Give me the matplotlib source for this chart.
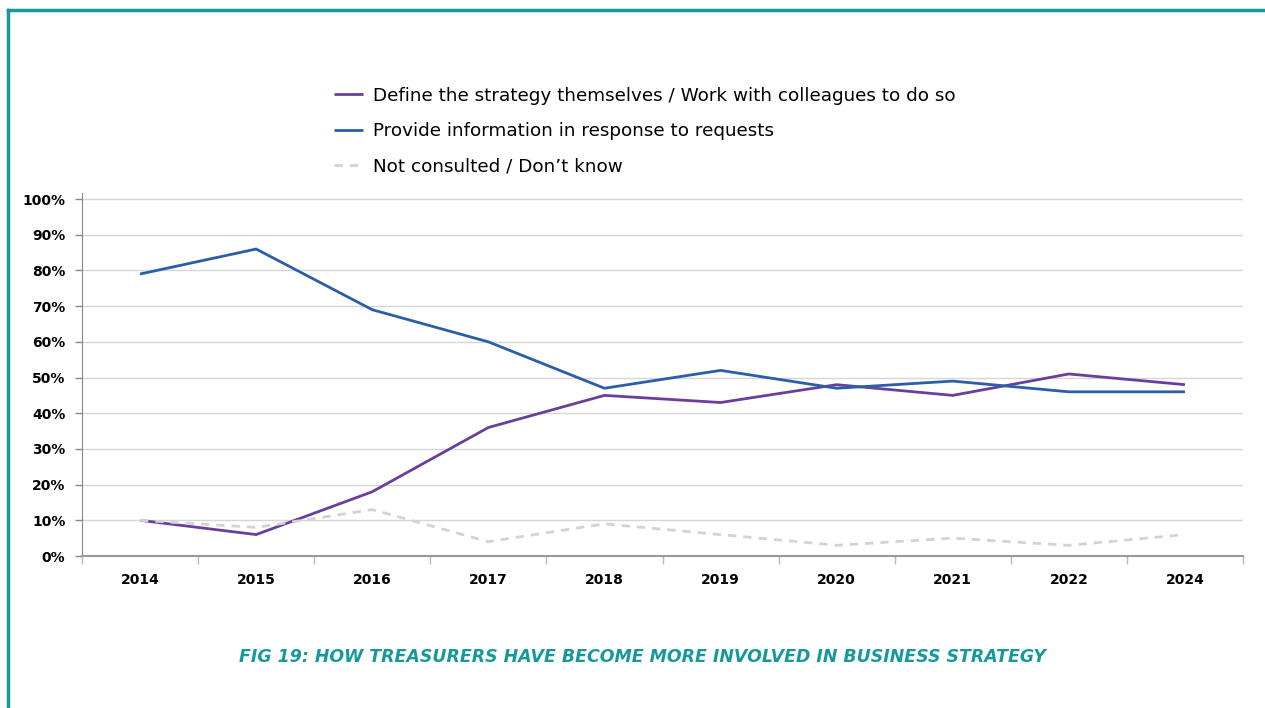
import matplotlib
matplotlib.use("Agg")
import matplotlib.pyplot as plt
from matplotlib.lines import Line2D

years = ["2014", "2015", "2016", "2017", "2018", "2019", "2020", "2021", "2022", "2024"]
define_strategy = [10, 6, 18, 36, 45, 43, 48, 45, 51, 48]
provide_info = [79, 86, 69, 60, 47, 52, 47, 49, 46, 46]
not_consulted = [10, 8, 13, 4, 9, 6, 3, 5, 3, 6]

labels = ["Define the strategy themselves / Work with colleagues to do so",
          "Provide information in response to requests",
          "Not consulted / Don\u2019t know"]
caption = "FIG 19: HOW TREASURERS HAVE BECOME MORE INVOLVED IN BUSINESS STRATEGY"

purple = "#6a3f9c"
blue = "#2b5ea8"
grey = "#d3d3d3"
teal = "#17999b"

plt.rcParams['font.family'] = ['DejaVu Sans']

fig = plt.figure(figsize=(12.65, 7.08), dpi=100)
ax = fig.add_axes([82 / 1265, 1 - 556 / 708, 1161 / 1265, 363 / 708])

x = list(range(len(years)))
l1, = ax.plot(x, define_strategy, color=purple, lw=2.0, solid_capstyle='butt')
l2, = ax.plot(x, provide_info, color=blue, lw=2.0, solid_capstyle='butt')
l3, = ax.plot(x, not_consulted, color=grey, lw=2.0, linestyle=(0, (3, 2.5)))

ax.set_xlim(-0.5, len(years) - 0.5)
ax.set_ylim(0, 101.7)
ax.set_yticks(range(0, 101, 10))
ax.set_yticklabels([f"{v}%" for v in range(0, 101, 10)])
ax.set_xticks(x)
ax.set_xticklabels(years)
ax.set_xticks([i - 0.5 for i in range(len(years) + 1)], minor=True)
ax.tick_params(axis='x', which='major', length=0, pad=12, labelsize=10)
ax.tick_params(axis='x', which='minor', length=6, width=1, color="#bbbbbb")
ax.tick_params(axis='y', length=5, width=1, color="#888888", pad=7, labelsize=10)
for lab in ax.get_xticklabels() + ax.get_yticklabels():
    lab.set_fontweight('semibold')

ax.grid(axis='y', color="#d6d6d6", lw=1)
ax.set_axisbelow(True)
for s in ['top', 'right']:
    ax.spines[s].set_visible(False)
ax.spines['left'].set_color("#888888")
ax.spines['bottom'].set_color("#999999")
ax.spines['bottom'].set_linewidth(1.5)

fig.legend([l1, l2, l3], labels, loc='upper left', bbox_to_anchor=(317 / 1265, 1 - 70 / 708),
           frameon=False, fontsize=13.25, handlelength=1.6, handletextpad=0.55,
           labelspacing=0.95)

fig.text(643 / 1265, 1 - 657 / 708, caption, color=teal, fontsize=12.5, fontweight='bold',
         fontstyle='italic', ha='center', va='center')

# teal frame on top and left
fig.add_artist(Line2D([8 / 1265, 8 / 1265], [0, 1 - 10 / 708], color=teal, lw=2.5,
                      transform=fig.transFigure, solid_capstyle='projecting'))
fig.add_artist(Line2D([8 / 1265, 1], [1 - 10 / 708, 1 - 10 / 708], color=teal, lw=2.5,
                      transform=fig.transFigure, solid_capstyle='projecting'))

fig.savefig("out.png", dpi=100)
